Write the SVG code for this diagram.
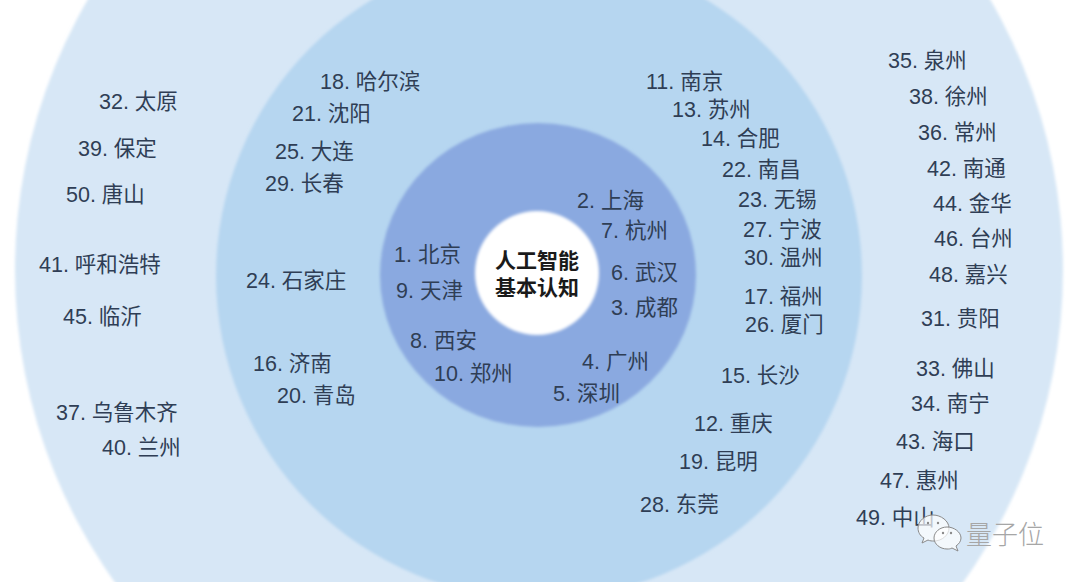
<svg xmlns="http://www.w3.org/2000/svg" width="1080" height="582" viewBox="0 0 1080 582">
<style>
text{font-family:"Liberation Sans","Noto Sans CJK SC",sans-serif;font-size:21.5px;fill:#2f3e55;white-space:pre}
.t{font-size:21px;font-weight:700;fill:#1a1a1a;text-anchor:middle}
.w{font-size:26px;font-weight:300;fill:#a6a6a6}
.b{fill:#fff;fill-opacity:.7;stroke:#8a8a8a;stroke-width:1}
.e{fill:#8a8a8a}
</style>
<defs><filter id="s" x="-5%" y="-5%" width="110%" height="110%"><feGaussianBlur stdDeviation="1.5"/></filter></defs>
<rect width="1080" height="582" fill="#fff"/>
<g id="ring-outer"><ellipse cx="539" cy="270" rx="524" ry="532" fill="#d7e7f6" filter="url(#s)"/></g>
<g id="ring-middle"><circle cx="539" cy="276" r="323" fill="#b6d6f0" filter="url(#s)"/></g>
<g id="ring-inner"><ellipse cx="538" cy="275" rx="158" ry="152" fill="#8aa9e0" filter="url(#s)"/></g>
<g id="center"><circle cx="537" cy="273" r="62" fill="#fff" filter="url(#s)"/>
<text class="t" x="537" y="268">人工智能</text><text class="t" x="537" y="295">基本认知</text></g>
<g id="cities" transform="translate(0,-0.4)">
<g id="c1"><text x="394" y="262">1. 北京</text></g>
<g id="c2"><text x="577" y="208">2. 上海</text></g>
<g id="c3"><text x="611" y="315">3. 成都</text></g>
<g id="c4"><text x="582" y="369">4. 广州</text></g>
<g id="c5"><text x="553" y="401">5. 深圳</text></g>
<g id="c6"><text x="611" y="280">6. 武汉</text></g>
<g id="c7"><text x="601" y="238">7. 杭州</text></g>
<g id="c8"><text x="410" y="348">8. 西安</text></g>
<g id="c9"><text x="396" y="298">9. 天津</text></g>
<g id="c10"><text x="434" y="381">10. 郑州</text></g>
<g id="c11"><text x="646" y="89">11. 南京</text></g>
<g id="c12"><text x="694" y="431">12. 重庆</text></g>
<g id="c13"><text x="672" y="117">13. 苏州</text></g>
<g id="c14"><text x="701" y="146">14. 合肥</text></g>
<g id="c15"><text x="721" y="383">15. 长沙</text></g>
<g id="c16"><text x="253" y="371">16. 济南</text></g>
<g id="c17"><text x="744" y="304">17. 福州</text></g>
<g id="c18"><text x="320" y="89">18. 哈尔滨</text></g>
<g id="c19"><text x="679" y="469">19. 昆明</text></g>
<g id="c20"><text x="277" y="403">20. 青岛</text></g>
<g id="c21"><text x="292" y="121">21. 沈阳</text></g>
<g id="c22"><text x="722" y="177">22. 南昌</text></g>
<g id="c23"><text x="738" y="207">23. 无锡</text></g>
<g id="c24"><text x="246" y="288">24. 石家庄</text></g>
<g id="c25"><text x="275" y="159">25. 大连</text></g>
<g id="c26"><text x="745" y="332">26. 厦门</text></g>
<g id="c27"><text x="743" y="237">27. 宁波</text></g>
<g id="c28"><text x="640" y="512">28. 东莞</text></g>
<g id="c29"><text x="265" y="191">29. 长春</text></g>
<g id="c30"><text x="744" y="265">30. 温州</text></g>
<g id="c31"><text x="921" y="326">31. 贵阳</text></g>
<g id="c32"><text x="99" y="109">32. 太原</text></g>
<g id="c33"><text x="916" y="376">33. 佛山</text></g>
<g id="c34"><text x="911" y="411">34. 南宁</text></g>
<g id="c35"><text x="888" y="68">35. 泉州</text></g>
<g id="c36"><text x="918" y="140">36. 常州</text></g>
<g id="c37"><text x="56" y="420">37. 乌鲁木齐</text></g>
<g id="c38"><text x="909" y="104">38. 徐州</text></g>
<g id="c39"><text x="78" y="156">39. 保定</text></g>
<g id="c40"><text x="102" y="455">40. 兰州</text></g>
<g id="c41"><text x="39" y="272">41. 呼和浩特</text></g>
<g id="c42"><text x="927" y="176">42. 南通</text></g>
<g id="c43"><text x="896" y="449">43. 海口</text></g>
<g id="c44"><text x="933" y="211">44. 金华</text></g>
<g id="c45"><text x="63" y="324">45. 临沂</text></g>
<g id="c46"><text x="934" y="246">46. 台州</text></g>
<g id="c47"><text x="880" y="488">47. 惠州</text></g>
<g id="c48"><text x="929" y="282">48. 嘉兴</text></g>
<g id="c49"><text x="856" y="525">49. 中山</text></g>
<g id="c50"><text x="66" y="202">50. 唐山</text></g>
</g>
<g id="watermark">
<path class="b" d="M933 515c-8 0-15 6-15 13 0 4 2 8 6 10l-2 5 6-3c2 1 4 1 6 1 8 0 15-6 15-13s-8-13-16-13z"/>
<circle class="e" cx="928" cy="523" r="1.2"/><circle class="e" cx="938" cy="523" r="1.2"/>
<path class="b" d="M947 527c-7 0-13 5-13 11s6 11 13 11c2 0 3 0 5-1l6 3-2-5c3-2 5-5 5-8 0-6-7-11-14-11z"/>
<circle class="e" cx="943" cy="533" r="1.2"/><circle class="e" cx="951" cy="533" r="1.2"/>
<text class="w" x="966" y="544">量子位</text>
</g>
</svg>
